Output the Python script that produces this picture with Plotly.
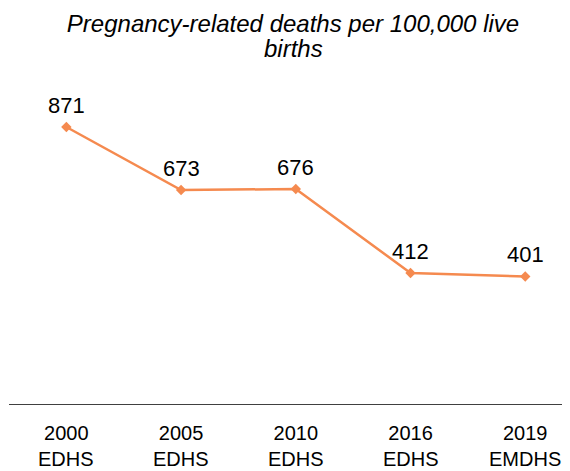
import plotly.graph_objects as go

# 임신 관련 사망 (10만 출생당)
years = ["2000", "2005", "2010", "2016", "2019"]
surveys = ["EDHS", "EDHS", "EDHS", "EDHS", "EMDHS"]
deaths = [871, 673, 676, 412, 401]
title_lines = ["Pregnancy-related deaths per 100,000 live", "births"]

LINE = "#F58A4F"
FONT = "Liberation Sans, Arial, sans-serif"

xs = list(range(len(years)))
fig = go.Figure(go.Scatter(
    x=xs, y=deaths, mode="lines+markers",
    line=dict(color=LINE, width=2.5),
    marker=dict(symbol="diamond", size=8, color=LINE),
    cliponaxis=False, showlegend=False,
))

# 값 라벨 (점 위)
for x, v in zip(xs, deaths):
    fig.add_annotation(x=x, y=v, text=str(v), showarrow=False, yanchor="bottom",
                       yshift=7, font=dict(size=22, color="#000000", family=FONT))

# x 라벨 둘째 줄 (조사명) — 줄 간격을 좁히려고 annotation 으로
for x, s in zip(xs, surveys):
    fig.add_annotation(x=x, yref="paper", y=-0.173, yanchor="middle", text=s,
                       showarrow=False, font=dict(size=20, color="#000000", family=FONT))

# 제목 둘째 줄
fig.add_annotation(xref="paper", yref="paper", x=0.5, y=1.118, yanchor="middle",
                   text=f"<i>{title_lines[1]}</i>", showarrow=False,
                   font=dict(size=24, color="#000000", family=FONT))

fig.update_layout(
    width=570, height=471,
    paper_bgcolor="white", plot_bgcolor="white",
    margin=dict(l=1, r=0, t=78, b=75),
    title=dict(text=f"<i>{title_lines[0]}</i>", x=0.5, xanchor="center",
               yref="container", y=0.967, yanchor="middle",
               font=dict(size=24, color="#000000", family=FONT)),
    font=dict(family=FONT, color="#000000"),
)
fig.update_xaxes(
    range=[-0.5, 4.46], tickmode="array", tickvals=xs, ticktext=years,
    showline=True, linecolor="#404040", linewidth=1.3, showgrid=False, zeroline=False,
    ticks="", tickfont=dict(size=20, color="#000000"), ticklabelstandoff=11,
)
fig.update_yaxes(range=[0, 1000], visible=False, showgrid=False)

fig.write_html("out.html")
